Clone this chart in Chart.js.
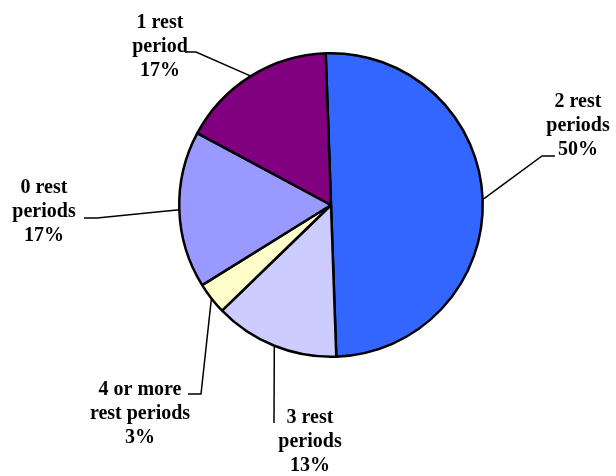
<!DOCTYPE html>
<html>
<head>
<meta charset="utf-8">
<script src="https://cdn.jsdelivr.net/npm/chart.js@4/dist/chart.umd.min.js"></script>
<style>
  body { margin: 0; background: #fff; }
  canvas { display: block; }
</style>
</head>
<body>
<canvas id="grafico" width="616" height="476"></canvas>
<script>
// dados do gráfico (ordem no sentido horário a partir do topo)
const categorias = ['2 rest periods', '3 rest periods', '4 or more rest periods', '0 rest periods', '1 rest period'];
const valores = [50, 13.3, 3.4, 16.7, 16.6];
const linhasRotulo = [
    ['2 rest', 'periods'],
    ['3 rest', 'periods'],
    ['4 or more', 'rest periods'],
    ['0 rest', 'periods'],
    ['1 rest', 'period']
];
const cores = ['#3366FF', '#CCCCFF', '#FFFFCC', '#9999FF', '#800080'];

// posição dos rótulos e cotovelos das linhas de chamada
const posRotulos = [
    { caminho: [[542, 156], [555, 156]], cx: 578, y0: 107 },
    { caminho: [[274, 423]], cx: 310, y0: 423 },
    { caminho: [[201, 394], [188, 394]], cx: 140, y0: 395 },
    { caminho: [[97, 218], [84, 218]], cx: 44, y0: 193 },
    { caminho: [[196, 52], [185, 52]], cx: 160, y0: 28 }
];
const alturaLinha = 24;

const total = valores.reduce((acc, v) => acc + v, 0);

const rotulosPlugin = {
    id: 'rotulos',
    afterDatasetsDraw(chart) {
        const ctx = chart.ctx;
        const arcos = chart.getDatasetMeta(0).data;
        ctx.save();
        arcos.forEach(function (arco, i) {
            const p = arco.getProps(['x', 'y', 'startAngle', 'endAngle', 'outerRadius'], true);
            const meio = (p.startAngle + p.endAngle) / 2;
            const ax = p.x + Math.cos(meio) * p.outerRadius;
            const ay = p.y + Math.sin(meio) * p.outerRadius;
            const pos = posRotulos[i];

            ctx.beginPath();
            ctx.moveTo(ax, ay);
            pos.caminho.forEach(pt => ctx.lineTo(pt[0], pt[1]));
            ctx.strokeStyle = '#000';
            ctx.lineWidth = 1.5;
            ctx.stroke();

            const pct = Math.round(valores[i] / total * 100) + '%';
            const linhas = linhasRotulo[i].concat([pct]);
            ctx.fillStyle = '#000';
            ctx.font = 'bold 20px "Liberation Serif", "Times New Roman", serif';
            ctx.textAlign = 'center';
            ctx.textBaseline = 'alphabetic';
            linhas.forEach(function (txt, k) {
                ctx.fillText(txt, pos.cx, pos.y0 + k * alturaLinha);
            });
        });
        ctx.restore();
    }
};

new Chart(document.getElementById('grafico').getContext('2d'), {
    type: 'pie',
    data: {
        labels: categorias,
        datasets: [{
            data: valores,
            backgroundColor: cores,
            borderColor: '#000',
            borderWidth: 2.5
        }]
    },
    options: {
        responsive: false,
        animation: false,
        rotation: -2,
        layout: { padding: { left: 178, right: 132, top: 52, bottom: 118 } },
        plugins: {
            legend: { display: false },
            tooltip: { enabled: false }
        }
    },
    plugins: [rotulosPlugin]
});
</script>
</body>
</html>
